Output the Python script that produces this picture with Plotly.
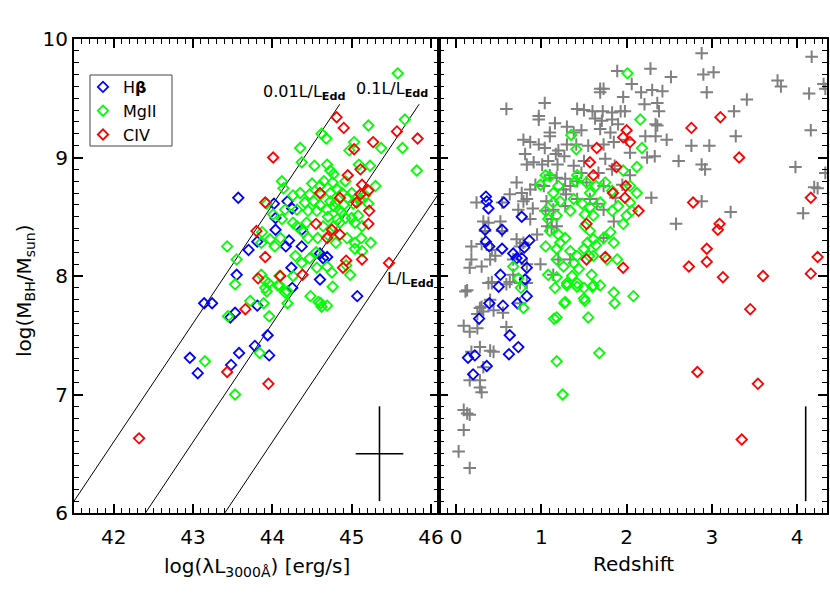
import numpy as np
import plotly.graph_objects as go

FONT = "DejaVu Sans"

# ---- data: left panel, log(lambda L_3000) vs log(M_BH)
hb_lum = [43.57, 44.02, 44.19, 44.25, 44.04, 44.04, 43.81, 43.70, 44.37, 44.21, 44.17, 44.37, 44.60, 44.64,
          44.69, 44.24, 43.55, 44.60, 44.25, 45.07, 43.14, 43.24, 43.53, 43.47, 43.81, 42.96, 43.06, 43.48,
          43.58, 43.78, 43.94, 43.96]
hb_mass = [8.66, 8.61, 8.63, 8.57, 8.49, 8.39, 8.29, 8.22, 8.39, 8.30, 8.25, 8.25, 8.19, 8.15,
           8.16, 8.07, 8.01, 7.97, 7.90, 7.83, 7.77, 7.77, 7.69, 7.65, 7.75, 7.31, 7.18, 7.25,
           7.35, 7.41, 7.50, 7.33]

mg_lum = [45.58, 45.67, 45.64, 45.82, 45.21, 44.62, 44.68, 45.03, 44.97, 45.37, 44.35, 44.37, 44.53, 44.69,
          44.73, 44.77, 45.09, 45.23, 44.12, 44.50, 44.60, 44.65, 44.76, 44.92, 44.82, 44.88, 45.30, 44.14,
          44.26, 44.35, 44.47, 44.61, 44.73, 45.00, 45.06, 45.17, 44.41, 44.52, 44.73, 44.77, 45.02, 45.11,
          45.21, 44.16, 44.31, 44.56, 44.69, 44.87, 44.92, 45.00, 45.08, 43.93, 44.01, 44.12, 44.26, 44.43,
          44.64, 44.77, 44.85, 45.04, 45.13, 43.43, 43.55, 43.87, 43.97, 43.86, 44.03, 44.10, 44.31, 44.39,
          44.45, 44.57, 44.71, 44.80, 44.94, 45.04, 45.12, 45.24, 45.04, 45.13, 44.29, 44.37, 44.47, 44.55,
          44.56, 44.69, 44.75, 44.98, 44.93, 44.26, 43.53, 43.86, 43.91, 43.91, 44.09, 44.09, 44.19, 44.48,
          44.61, 44.69, 44.76, 43.72, 43.89, 43.93, 43.95, 44.07, 44.19, 44.16, 44.58, 44.62, 43.44, 43.96,
          43.15, 43.84, 43.53, 44.80, 44.84, 44.90, 44.95, 44.70, 44.82, 44.45, 44.60]
mg_mass = [9.71, 9.32, 9.08, 8.89, 9.27, 9.20, 9.16, 9.13, 9.06, 9.08, 9.08, 8.96, 8.93, 8.94,
           8.89, 8.86, 8.94, 8.93, 8.80, 8.78, 8.76, 8.80, 8.79, 8.80, 8.73, 8.70, 8.76, 8.74,
           8.68, 8.70, 8.69, 8.69, 8.70, 8.70, 8.66, 8.68, 8.62, 8.63, 8.63, 8.59, 8.61, 8.65,
           8.61, 8.56, 8.56, 8.55, 8.56, 8.54, 8.49, 8.49, 8.51, 8.61, 8.52, 8.48, 8.45, 8.45,
           8.42, 8.42, 8.45, 8.45, 8.42, 8.25, 8.14, 8.37, 8.31, 8.28, 8.25, 8.32, 8.42, 8.37,
           8.32, 8.32, 8.34, 8.28, 8.32, 8.28, 8.32, 8.28, 8.23, 8.21, 8.17, 8.11, 8.15, 8.20,
           8.07, 8.08, 8.03, 8.01, 8.09, 8.00, 7.93, 8.01, 7.96, 7.90, 8.00, 7.92, 7.87, 7.83,
           7.77, 7.75, 7.91, 7.79, 7.77, 7.87, 7.94, 7.92, 7.77, 7.86, 7.78, 7.74, 7.66, 7.66,
           7.28, 7.35, 7.00, 8.62, 8.56, 8.60, 8.66, 8.50, 8.48, 8.55, 8.60]

civ_lum = [44.81, 44.90, 44.01, 45.57, 45.83, 45.27, 45.03, 45.11, 45.13, 45.21, 45.11, 45.06, 43.91, 45.22,
           45.21, 44.85, 43.80, 44.55, 44.69, 44.75, 43.91, 44.93, 44.89, 45.13, 44.10, 43.82, 44.38, 45.47,
           43.66, 43.43, 43.95, 42.32, 44.95, 44.60, 44.85]
civ_mass = [9.34, 9.25, 9.00, 9.22, 9.16, 9.13, 9.07, 8.90, 8.77, 8.72, 8.69, 8.62, 8.62, 8.55,
            8.44, 8.66, 8.38, 8.44, 8.32, 8.39, 8.16, 8.13, 8.07, 8.14, 8.00, 7.98, 8.01, 8.11,
            7.72, 7.19, 7.09, 6.63, 8.85, 8.70, 8.35]

# ---- data: right panel, redshift vs log(M_BH)
comp_z = [2.88, 4.17, 2.28, 1.89, 2.90, 3.02, 2.52, 3.77, 3.81, 4.31, 4.33, 2.06, 2.17, 2.30, 2.42, 1.69, 1.73,
          1.69, 1.96, 2.94, 4.14, 3.41, 2.21, 2.36, 2.38, 1.04, 0.59, 1.42, 1.50, 1.60, 1.72, 1.83, 1.93,
          1.98, 3.26, 0.97, 0.97, 1.16, 1.10, 1.30, 1.38, 1.47, 1.63, 1.71, 1.83, 1.90, 1.69, 1.81, 2.34,
          2.36, 4.16, 2.76, 2.22, 2.34, 2.47, 3.28, 2.97, 0.79, 0.87, 0.97, 1.04, 1.10, 1.20, 1.30, 1.41,
          1.55, 1.73, 1.85, 2.00, 2.04, 2.24, 2.33, 0.81, 0.83, 0.91, 1.01, 1.08, 1.17, 1.19, 1.27, 1.38,
          1.50, 1.75, 1.86, 2.61, 2.88, 2.92, 3.98, 4.33, 0.71, 0.63, 0.77, 0.87, 0.93, 1.03, 1.10, 1.18,
          1.28, 1.26, 1.29, 1.34, 1.42, 1.47, 1.53, 1.67, 1.73, 1.83, 1.95, 2.04, 0.83, 0.79, 0.24, 0.54,
          0.73, 0.90, 1.06, 1.14, 1.28, 1.42, 1.57, 1.65, 1.73, 1.87, 2.29, 2.88, 4.20, 4.24, 4.07, 3.22,
          2.58, 1.05, 1.12, 1.07, 1.12, 1.18, 1.85, 1.73, 0.87, 0.38, 0.32, 0.52, 0.34, 0.54, 0.71, 0.79,
          0.95, 0.18, 0.30, 0.42, 0.46, 0.18, 0.30, 0.16, 0.40, 0.67, 0.75, 0.83, 0.99, 1.20, 1.34, 0.67,
          0.13, 0.42, 0.59, 0.75, 0.83, 1.14, 0.28, 0.11, 0.09, 0.16, 0.25, 0.25, 0.32, 0.30, 0.40, 0.44,
          0.55, 0.59, 0.18, 0.28, 0.40, 0.44, 0.32, 0.16, 0.28, 0.28, 0.30, 0.09, 0.13, 0.16, 0.09, 0.03,
          0.16, 0.38, 0.42, 0.75, 0.63]
comp_mass = [9.88, 9.85, 9.75, 9.73, 9.70, 9.72, 9.68, 9.65, 9.60, 9.62, 9.58, 9.62, 9.55, 9.57, 9.56, 9.58, 9.58,
             9.55, 9.51, 9.55, 9.54, 9.49, 9.45, 9.46, 9.39, 9.46, 9.41, 9.41, 9.40, 9.39, 9.39, 9.38, 9.39,
             9.39, 9.39, 9.35, 9.32, 9.29, 9.21, 9.26, 9.21, 9.23, 9.33, 9.31, 9.32, 9.28, 9.24, 9.21, 9.28,
             9.27, 9.23, 9.10, 9.18, 9.18, 9.15, 9.18, 9.10, 9.15, 9.13, 9.11, 9.08, 9.18, 9.06, 9.11, 9.11,
             9.10, 9.11, 9.13, 9.15, 9.04, 9.00, 9.01, 9.03, 8.94, 8.96, 8.94, 8.97, 9.03, 8.94, 9.01, 8.93,
             8.97, 8.99, 8.93, 8.97, 8.94, 8.90, 8.92, 8.87, 8.79, 8.69, 8.70, 8.73, 8.77, 8.76, 8.85, 8.83,
             8.82, 8.73, 8.69, 8.76, 8.80, 8.87, 8.79, 8.87, 8.76, 8.90, 8.77, 8.85, 8.65, 8.63, 8.62, 8.62,
             8.56, 8.57, 8.63, 8.56, 8.59, 8.65, 8.65, 8.61, 8.56, 8.66, 8.66, 8.63, 8.75, 8.74, 8.53, 8.54,
             8.44, 8.55, 8.48, 8.42, 8.41, 8.42, 8.46, 8.32, 8.48, 8.45, 8.46, 8.46, 8.38, 8.38, 8.31, 8.28,
             8.35, 8.25, 8.27, 8.22, 8.17, 8.14, 8.08, 8.07, 8.14, 8.14, 8.25, 8.10, 8.10, 8.14, 8.14, 8.01,
             7.88, 7.94, 7.93, 7.94, 7.94, 8.01, 7.73, 7.87, 7.58, 7.53, 7.56, 7.68, 7.70, 7.74, 7.80, 7.71,
             7.69, 7.57, 7.36, 7.40, 7.37, 7.36, 7.23, 7.12, 7.12, 7.06, 7.02, 6.87, 6.84, 6.83, 6.70, 6.52,
             6.38, 7.94, 7.95, 7.77, 7.95]

hb_z = [0.35, 0.36, 0.38, 0.56, 0.77, 0.34, 0.54, 0.35, 0.39, 0.54, 0.67, 0.71, 0.77, 0.80, 0.86, 0.83,
        0.52, 0.81, 0.50, 0.83, 0.39, 0.55, 0.72, 0.27, 0.63, 0.62, 0.73, 0.14, 0.22, 0.36, 0.20]
hb_mass_z = [8.67, 8.63, 8.57, 8.62, 8.50, 8.39, 8.39, 8.29, 8.25, 8.23, 8.19, 8.15, 8.15, 8.24, 8.30, 8.07,
             8.01, 7.97, 7.91, 7.83, 7.77, 7.75, 7.77, 7.64, 7.50, 7.34, 7.40, 7.31, 7.33, 7.24, 7.17]

mg_z = [2.01, 2.16, 2.18, 2.12, 1.35, 1.41, 1.96, 1.05, 1.10, 1.42, 1.53, 0.99, 1.14, 1.20, 1.40, 1.57, 1.64,
        1.75, 1.83, 2.04, 2.12, 1.14, 1.22, 1.38, 1.48, 1.57, 1.69, 1.83, 1.90, 2.04, 2.06, 2.00, 1.96,
        1.05, 1.08, 1.18, 1.34, 1.51, 1.61, 1.51, 1.10, 1.20, 1.28, 1.22, 1.57, 1.61, 1.73, 1.81, 1.85,
        1.05, 1.18, 1.34, 1.42, 1.50, 1.54, 1.64, 1.89, 1.77, 1.18, 1.26, 1.38, 1.44, 1.56, 1.61, 1.08,
        1.18, 1.30, 1.36, 1.42, 1.50, 1.59, 1.61, 1.69, 1.16, 1.28, 1.50, 1.85, 1.86, 2.08, 0.67, 0.73,
        0.76, 1.30, 1.42, 1.60, 1.51, 1.27, 1.15, 1.18, 1.55, 1.68, 1.18, 1.25, 0.79]
mg_mass_z = [9.71, 9.32, 9.08, 8.92, 9.19, 9.07, 8.89, 8.85, 8.84, 8.85, 8.79, 8.77, 8.70, 8.76, 8.80, 8.70, 8.76,
             8.79, 8.72, 8.76, 8.70, 8.62, 8.63, 8.65, 8.61, 8.58, 8.62, 8.55, 8.59, 8.62, 8.55, 8.51, 8.44,
             8.55, 8.48, 8.51, 8.55, 8.52, 8.51, 8.42, 8.38, 8.35, 8.32, 8.28, 8.38, 8.31, 8.32, 8.37, 8.28,
             8.25, 8.23, 8.21, 8.17, 8.23, 8.28, 8.26, 8.14, 8.14, 8.14, 8.08, 8.11, 8.06, 8.17, 8.17, 8.01,
             7.99, 7.94, 8.00, 7.94, 7.90, 8.01, 7.92, 7.92, 7.90, 7.78, 7.81, 7.86, 7.77, 7.83, 8.08, 7.98,
             7.90, 7.92, 7.91, 7.91, 7.79, 7.77, 7.64, 7.65, 7.65, 7.35, 7.28, 7.00, 7.73]

civ_z = [3.10, 2.76, 3.32, 2.00, 1.96, 2.04, 1.65, 1.61, 1.57, 1.88, 1.84, 1.98, 2.14, 1.99, 2.78, 4.16, 3.09,
         3.07, 1.53, 1.53, 1.75, 1.96, 2.73, 2.94, 2.94, 3.13, 3.60, 4.16, 4.24, 3.45, 2.83, 3.54, 3.35]
civ_mass_z = [9.34, 9.25, 9.00, 9.23, 9.17, 9.13, 9.08, 8.85, 8.96, 8.92, 8.70, 8.66, 8.55, 8.76, 8.62, 8.66, 8.44,
              8.39, 8.44, 8.14, 8.16, 8.07, 8.08, 8.23, 8.12, 7.99, 8.00, 8.02, 8.16, 7.72, 7.19, 7.09, 6.62]

# Eddington ratio lines: log L = log M + 37.4 + log(ratio)
edd_ratios = [0.01, 0.1, 1.0]
edd_labels = ["0.01L/L<sub><b>Edd</b></sub>", "0.1L/L<sub><b>Edd</b></sub>", "L/L<sub><b>Edd</b></sub>"]
edd_mass = np.array([6.0, 9.45])

# typical error bars
err_lum, err_mass = [45.35], [6.5]
err_dlum, err_dmass = [0.3], [0.4]
err_z = [4.1]

fig = go.Figure()

diamond = dict(symbol="diamond-open", size=8)
series = [("H<b>β</b>", "#0000ff", hb_lum, hb_mass, hb_z, hb_mass_z),
          ("MgII", "#00ff00", mg_lum, mg_mass, mg_z, mg_mass_z),
          ("CIV", "#ff0000", civ_lum, civ_mass, civ_z, civ_mass_z)]

for ratio in edd_ratios:
    fig.add_trace(go.Scatter(x=edd_mass + 37.4 + np.log10(ratio), y=edd_mass, mode="lines",
                             line=dict(color="black", width=1), showlegend=False,
                             xaxis="x", yaxis="y"))

for name, col, lum, mass, z, mz in series:
    fig.add_trace(go.Scatter(x=lum, y=mass, mode="markers", name=name,
                             marker=dict(**diamond, color=col, line=dict(color=col, width=1.8)),
                             xaxis="x", yaxis="y"))

fig.add_trace(go.Scatter(x=comp_z, y=comp_mass, mode="markers", showlegend=False,
                         marker=dict(symbol="cross-thin-open", size=9, color="#808080",
                                     line=dict(color="#808080", width=2)),
                         xaxis="x2", yaxis="y2"))

for name, col, lum, mass, z, mz in series:
    fig.add_trace(go.Scatter(x=z, y=mz, mode="markers", showlegend=False,
                             marker=dict(**diamond, color=col, line=dict(color=col, width=1.8)),
                             xaxis="x2", yaxis="y2"))

fig.add_trace(go.Scatter(x=err_lum, y=err_mass, mode="markers", showlegend=False,
                         marker=dict(size=1, color="rgba(0,0,0,0)"),
                         error_x=dict(type="data", array=err_dlum, width=0, thickness=1.6, color="black"),
                         error_y=dict(type="data", array=err_dmass, width=0, thickness=1.6, color="black"),
                         xaxis="x", yaxis="y"))
fig.add_trace(go.Scatter(x=err_z, y=err_mass, mode="markers", showlegend=False,
                         marker=dict(size=1, color="rgba(0,0,0,0)"),
                         error_y=dict(type="data", array=err_dmass, width=0, thickness=1.6, color="black"),
                         xaxis="x2", yaxis="y2"))

axis_style = dict(showline=True, linecolor="black", linewidth=2, mirror="allticks",
                  ticks="inside", ticklen=9, tickwidth=1.5, tickcolor="black", showgrid=False,
                  zeroline=False, tickfont=dict(family=FONT, size=20, color="black"),
                  minor=dict(ticks="inside", ticklen=5, tickwidth=1.2, tickcolor="black", dtick=0.1))

y_dom = [1 - 513 / 593, 1 - 39 / 593]
fig.update_layout(
    width=830, height=593, autosize=False,
    margin=dict(l=0, r=0, t=0, b=0, autoexpand=False),
    paper_bgcolor="white", plot_bgcolor="white",
    font=dict(family=FONT, color="black"),
    xaxis=dict(axis_style, domain=[74 / 830, 439 / 830], range=[41.5, 46.1], dtick=1, anchor="y",
               ticklabelstandoff=5),
    yaxis=dict(axis_style, domain=y_dom, range=[6, 10], dtick=1, anchor="x"),
    xaxis2=dict(axis_style, domain=[439 / 830, 827 / 830], range=[-0.2, 4.35], dtick=1, anchor="y2",
                ticklabelstandoff=5),
    yaxis2=dict(axis_style, domain=y_dom, range=[6, 10], dtick=1, anchor="x2", showticklabels=False),
    legend=dict(x=83 / 830, y=1 - 70 / 593, xanchor="left", yanchor="top",
                borderwidth=0, bgcolor="rgba(0,0,0,0)",
                font=dict(family=FONT, size=16, color="black")),
)

# legend frame
fig.add_shape(type="rect", xref="paper", yref="paper", x0=90 / 830, x1=172 / 830,
              y0=1 - 146 / 593, y1=1 - 75 / 593, line=dict(color="#444444", width=1), layer="below")

label_pos = [(44.40, 9.55), (45.51, 9.57), (45.74, 7.97)]
for text, (lx, ly) in zip(edd_labels, label_pos):
    fig.add_annotation(x=lx, y=ly, xref="x", yref="y", text=text, showarrow=False,
                       font=dict(family=FONT, size=16, color="black"))

title_font = dict(family=FONT, size=20, color="black")
fig.add_annotation(x=256.5 / 830, y=1 - 567 / 593, xref="paper", yref="paper", showarrow=False,
                   xanchor="center", yanchor="middle",
                   text="log(λL<sub>3000Å</sub>) [erg/s]", font=title_font)
fig.add_annotation(x=633 / 830, y=1 - 564 / 593, xref="paper", yref="paper", showarrow=False,
                   xanchor="center", yanchor="middle", text="Redshift", font=title_font)
fig.add_annotation(x=25 / 830, y=1 - 291 / 593, xref="paper", yref="paper", showarrow=False, textangle=-90,
                   xanchor="center", yanchor="middle",
                   text="log(M<sub>BH</sub>/M<sub>sun</sub>)", font=title_font)

# page without body margin so the figure sits at the window origin
fix_page = ("document.body.style.margin='0';document.body.style.overflow='hidden';"
            "Plotly.relayout(document.getElementById('{plot_id}'), {width: 830, height: 593});")
fig.write_html("out.html", config={"responsive": False, "displayModeBar": False}, post_script=fix_page)
